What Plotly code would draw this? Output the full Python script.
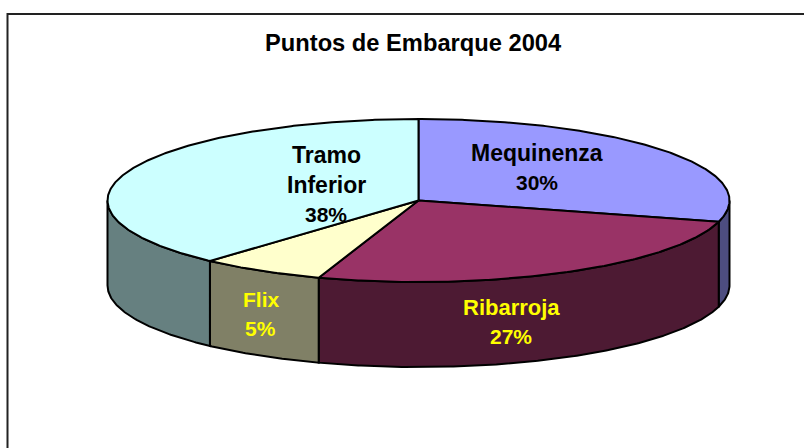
import numpy as np
import plotly.graph_objects as go

# Data
categories = ["Mequinenza", "Ribarroja", "Flix", "Tramo Inferior"]
label_percent = [30, 27, 5, 38]
# Share of the ellipse each wedge actually occupies in the drawing (Excel's
# oblique 3-D view distorts them slightly relative to the printed percentages).
drawn_share = [29.2, 26.0, 6.5, 38.3]

top_colors = ["#9999FF", "#993366", "#FFFFCC", "#CCFFFF"]
wall_colors = ["#4D4D80", "#4D1A33", "#808066", "#668080"]
text_colors = ["#000000", "#FFFF00", "#FFFF00", "#000000"]
label_lines = [["Mequinenza"], ["Ribarroja"], ["Flix"], ["Tramo", "Inferior"]]
label_sizes = [23, 22, 21, 23]
label_xy = [(537, 153), (511, 307), (260.5, 299), (326, 155)]

CX, CY, RX, RY, DEPTH = 418.5, 200.5, 311.0, 81.5, 85.0
LINE_GAP = 29.5


def rim(a0, a1):
    t = np.radians(np.linspace(a0, a1, max(int(abs(a1 - a0) * 2), 2)))
    return CX + RX * np.sin(t), CY - RY * np.cos(t)


fig = go.Figure()
edges = np.concatenate([[0], np.cumsum(drawn_share)]) / sum(drawn_share) * 360
line = dict(color="#000000", width=2)

# outer walls (only the front half, 90..270 degrees, is visible)
for name, c, a0, a1 in zip(categories, wall_colors, edges[:-1], edges[1:]):
    lo, hi = max(a0, 90), min(a1, 270)
    if lo >= hi:
        continue
    x, y = rim(lo, hi)
    fig.add_trace(go.Scatter(
        x=np.concatenate([x, x[::-1], x[:1]]),
        y=np.concatenate([y, y[::-1] + DEPTH, y[:1]]),
        mode="lines", fill="toself", fillcolor=c, line=line,
        name=name, hoverinfo="skip", showlegend=False))

# top faces
for name, pct, c, a0, a1 in zip(categories, label_percent, top_colors, edges[:-1], edges[1:]):
    x, y = rim(a0, a1)
    fig.add_trace(go.Scatter(
        x=np.concatenate([[CX], x, [CX]]),
        y=np.concatenate([[CY], y, [CY]]),
        mode="lines", fill="toself", fillcolor=c, line=line,
        name=name, text=f"{name}: {pct}%", hoverinfo="text", showlegend=False))

annotations = [dict(x=413, y=43, xref="x", yref="y", text="<b>Puntos de Embarque 2004</b>",
                    showarrow=False, font=dict(size=23.7, color="#000000"))]
for lines, pct, (lx, ly), col, sz in zip(label_lines, label_percent, label_xy, text_colors, label_sizes):
    for i, t in enumerate(lines):
        annotations.append(dict(x=lx, y=ly + i * LINE_GAP, xref="x", yref="y",
                                text=f"<b>{t}</b>", showarrow=False,
                                font=dict(size=sz, color=col)))
    annotations.append(dict(x=lx, y=ly + len(lines) * LINE_GAP, xref="x", yref="y",
                            text=f"<b>{pct}%</b>", showarrow=False,
                            font=dict(size=21, color=col)))

fig.update_layout(
    width=804, height=448, margin=dict(l=0, r=0, t=0, b=0),
    paper_bgcolor="#FFFFFF", plot_bgcolor="#FFFFFF",
    font=dict(family="Liberation Sans, Arial, sans-serif"),
    xaxis=dict(range=[0, 804], visible=False, fixedrange=True),
    yaxis=dict(range=[448, 0], visible=False, fixedrange=True),
    showlegend=False,
    annotations=annotations,
    shapes=[dict(type="rect", xref="x", yref="y", x0=7.5, y0=14, x1=840, y1=480,
                 line=dict(color="#222222", width=2), layer="below")],
)
fig.write_html("out.html", config=dict(displayModeBar=False),
               post_script="document.body.style.margin='0';document.documentElement.style.overflow='hidden';")
